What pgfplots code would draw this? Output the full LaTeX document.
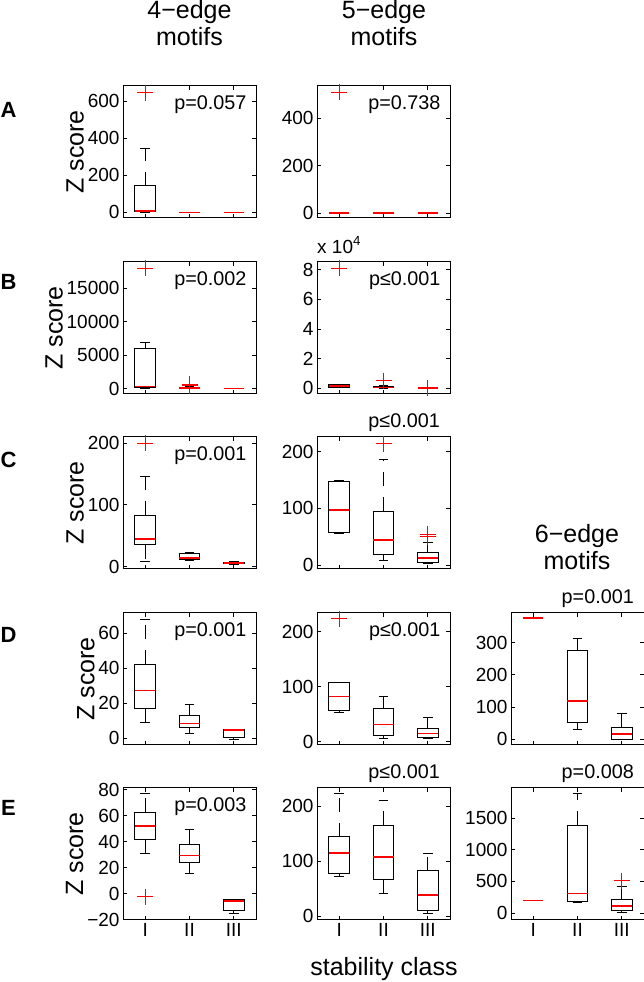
\documentclass[border=0pt]{standalone}
\usepackage{fontspec}
\setmainfont{Liberation Sans}
\usepackage{pgfplots}
\pgfplotsset{compat=1.18}
\newcommand{\ticksize}{\fontsize{19bp}{22bp}\selectfont}
\newcommand{\psize}{\fontsize{19.8bp}{22bp}\selectfont}
\newcommand{\labsize}{\fontsize{25bp}{27bp}\selectfont}
\pgfplotsset{
  panel/.style={
    width=133bp, height=132bp, scale only axis, anchor=north west,
    xmin=0.5, xmax=3.5, xtick={1,2,3}, xticklabels={},
    tick align=inside, tick pos=both,
    major tick length=4bp,
    axis line style={black, line width=1bp},
    every tick/.style={black, line width=0.7bp},
    tick label style={font=\ticksize, black},
    /pgf/number format/assume math mode=true,
    /pgf/number format/1000 sep={},
    scaled y ticks=false,
    label style={font=\labsize},
    ylabel shift=-3bp,
    clip=false,
  },
  wh/.style={black, line width=1bp, dash pattern=on 14bp off 11bp, mark=none},
  cap/.style={black, line width=1bp, solid, mark=none},
  boxs/.style={black, line width=1bp, solid, mark=none, line join=miter, line cap=rect},
  out/.style={only marks, mark=+, red, mark size=8bp, line width=1.1bp},
  med/.style={red, line width=1.5bp, solid, mark=none},
}
\newcommand{\bxp}[6]{%
  \edef\xl{\ifcase#1\or0.77\or1.77\or2.77\fi}%
  \edef\xr{\ifcase#1\or1.23\or2.23\or3.23\fi}%
  \edef\cl{\ifcase#1\or0.89\or1.89\or2.89\fi}%
  \edef\cR{\ifcase#1\or1.11\or2.11\or3.11\fi}%
  \edef\tmp{%
    \noexpand\addplot[wh] coordinates {(#1,#3) (#1,#2)};
    \noexpand\addplot[wh] coordinates {(#1,#5) (#1,#6)};
    \noexpand\addplot[cap] coordinates {(\cl,#2) (\cR,#2)};
    \noexpand\addplot[cap] coordinates {(\cl,#6) (\cR,#6)};
    \noexpand\addplot[boxs] coordinates {(\xl,#3) (\xr,#3) (\xr,#5) (\xl,#5) (\xl,#3)};
    \noexpand\addplot[med] coordinates {(\xl,#4) (\xr,#4)};
  }\tmp}
\newcommand{\pin}[1]{\node[anchor=east, font=\psize, inner sep=0pt] at (rel axis cs:0.93,0.856) {#1};}
\newcommand{\pout}[1]{\node[anchor=east, font=\psize, inner sep=0pt] at (rel axis cs:0.925,1.106) {#1};}
\begin{document}
\begin{tikzpicture}
% ---------- Row A ----------
\begin{axis}[panel, at={(123bp,896bp)}, ymin=-30, ymax=681, ytick={0,200,400,600}, ylabel={Z score}]
\bxp{1}{0}{7}{7}{145}{343}
\addplot[out] coordinates {(1,645)};
\addplot[med] coordinates {(1.77,0) (2.23,0)};
\addplot[med] coordinates {(2.77,0) (3.23,0)};
\pin{p=0.057}
\end{axis}
\begin{axis}[panel, at={(317bp,896bp)}, ymin=-21, ymax=537, ytick={0,200,400}]
\addplot[med] coordinates {(0.77,0) (1.23,0)};
\addplot[med] coordinates {(1.77,0) (2.23,0)};
\addplot[med] coordinates {(2.77,0) (3.23,0)};
\addplot[out] coordinates {(1,510)};
\pin{p=0.738}
\end{axis}
% ---------- Row B ----------
\begin{axis}[panel, at={(123bp,720bp)}, ymin=-820, ymax=18880, ytick={0,5000,10000,15000}, ylabel={Z score}]
\bxp{1}{0}{150}{270}{6000}{6900}
\addplot[out] coordinates {(1,17940)};
\bxp{2}{0}{20}{60}{180}{250}
\addplot[out] coordinates {(2,400) (2,600)};
\addplot[med] coordinates {(2.77,0) (3.23,0)};
\pin{p=0.002}
\end{axis}
\begin{axis}[panel, at={(317bp,720bp)}, ymin=-0.39, ymax=8.53, ytick={0,2,4,6,8}]
\bxp{1}{0.02}{0.05}{0.15}{0.22}{0.25}
\addplot[out] coordinates {(1,8.1)};
\bxp{2}{0}{0.02}{0.05}{0.1}{0.2}
\addplot[out] coordinates {(2,0.51)};
\addplot[med] coordinates {(2.77,0) (3.23,0)};
\addplot[out] coordinates {(3,0.0)};
\pin{p≤0.001}
\node[anchor=west, font=\ticksize, inner sep=0pt] at (rel axis cs:0,1.13) {x 10\textsuperscript{4}};
\end{axis}
% ---------- Row C ----------
\begin{axis}[panel, at={(123bp,545bp)}, ymin=-4, ymax=210, ytick={0,100,200}, ylabel={Z score}]
\bxp{1}{8}{35}{45}{83}{146}
\addplot[out] coordinates {(1,200)};
\bxp{2}{10}{12}{13.5}{21.5}{22}
\bxp{3}{4}{5}{6}{7}{8}
\pin{p=0.001}
\end{axis}
\begin{axis}[panel, at={(317bp,545bp)}, ymin=-7, ymax=226, ytick={0,100,200}]
\bxp{1}{56}{57.6}{97}{147}{150}
\bxp{2}{7.5}{19}{44}{95}{187}
\addplot[out] coordinates {(2,214)};
\bxp{3}{3}{4.6}{12.5}{22}{40.5}
\addplot[out] coordinates {(3,50) (3,54)};
\pout{p≤0.001}
\end{axis}
% ---------- Row D ----------
\begin{axis}[panel, at={(123bp,369bp)}, ymin=-3.8, ymax=71.6, ytick={0,20,40,60}, ylabel={Z score}]
\bxp{1}{9.1}{17.1}{27.2}{42.4}{67.8}
\bxp{2}{2.9}{6.3}{8.6}{13.3}{19.6}
\bxp{3}{-0.6}{0.6}{4.7}{4.8}{4.9}
\pin{p=0.001}
\end{axis}
\begin{axis}[panel, at={(317bp,369bp)}, ymin=-6, ymax=234, ytick={0,100,200}]
\bxp{1}{53}{56}{82}{107}{108}
\addplot[out] coordinates {(1,223.6)};
\bxp{2}{6}{12}{31.6}{60.7}{83}
\bxp{3}{5}{7}{15}{24}{44}
\pin{p≤0.001}
\end{axis}
\begin{axis}[panel, at={(511bp,369bp)}, ymin=-18, ymax=392, ytick={0,100,200,300}]
\addplot[med] coordinates {(0.77,376) (1.23,376)};
\bxp{2}{31}{53}{119}{277}{314}
\bxp{3}{0}{0}{15.5}{37}{81}
\pout{p=0.001}
\end{axis}
% ---------- Row E ----------
\begin{axis}[panel, at={(123bp,194bp)}, ymin=-20.3, ymax=81.3, ytick={-20,0,20,40,60,80}, yticklabels={−20,0,20,40,60,80}, ylabel={Z score}, xticklabels={I,II,III}]
\bxp{1}{31}{41.9}{52}{62.7}{76.7}
\addplot[out] coordinates {(1,-2.5)};
\bxp{2}{15.8}{23.6}{29.2}{37.9}{49.5}
\bxp{3}{-15.2}{-13}{-5.6}{-4.6}{-4.6}
\pin{p=0.003}
\end{axis}
\begin{axis}[panel, at={(317bp,194bp)}, ymin=-7.3, ymax=233.6, ytick={0,100,200}, xticklabels={I,II,III}]
\bxp{1}{72.6}{78}{115.2}{144.4}{223.8}
\bxp{2}{40.2}{66.5}{107.9}{165.8}{211.5}
\bxp{3}{3.7}{10.4}{38.4}{82.3}{113.3}
\pout{p≤0.001}
\end{axis}
\begin{axis}[panel, at={(511bp,194bp)}, ymin=-109, ymax=1972, ytick={0,500,1000,1500}, xticklabels={I,II,III}]
\addplot[med] coordinates {(0.77,197) (1.23,197)};
\bxp{2}{166}{182}{310}{1382}{1890}
\bxp{3}{16}{42}{113}{207}{414}
\addplot[out] coordinates {(3,508)};
\pout{p=0.008}
\end{axis}
% ---------- titles and labels ----------
\node[font=\labsize, align=center] at (189.5bp,958.7bp) {4−edge\\motifs};
\node[font=\labsize, align=center] at (384bp,958.7bp) {5−edge\\motifs};
\node[font=\labsize, align=center] at (577bp,434.5bp) {6−edge\\motifs};
\node[font=\fontsize{22bp}{24bp}\selectfont\bfseries] at (8.5bp,872bp) {A};
\node[font=\fontsize{22bp}{24bp}\selectfont\bfseries] at (8.5bp,700bp) {B};
\node[font=\fontsize{22bp}{24bp}\selectfont\bfseries] at (8.5bp,522bp) {C};
\node[font=\fontsize{22bp}{24bp}\selectfont\bfseries] at (8.5bp,347bp) {D};
\node[font=\fontsize{22bp}{24bp}\selectfont\bfseries] at (8.5bp,174bp) {E};
\node[font=\labsize] at (384bp,13bp) {stability class};
\pgfresetboundingbox
\useasboundingbox (0,0) rectangle (644bp,982bp);
\end{tikzpicture}
\end{document}
